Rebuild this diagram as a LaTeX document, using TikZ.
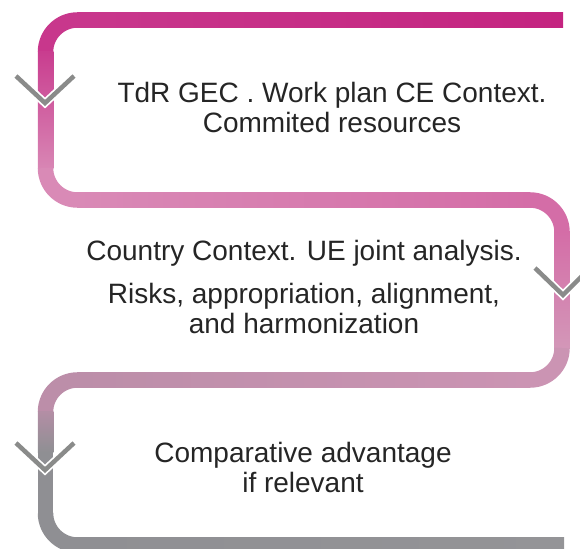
\documentclass[tikz,border=0pt]{standalone}
\usepackage{fontspec}
\setmainfont{Liberation Sans}
\definecolor{magA}{HTML}{C42480}
\definecolor{magB}{HTML}{C8378C}
\definecolor{pinkA}{HTML}{C93D8F}
\definecolor{pinkB}{HTML}{D886B4}
\definecolor{pinkC}{HTML}{D98AB6}
\definecolor{pinkD}{HTML}{D46DA7}
\definecolor{pinkE}{HTML}{DD95BE}
\definecolor{pinkF}{HTML}{D397B8}
\definecolor{mauveA}{HTML}{CB94B3}
\definecolor{mauveB}{HTML}{BC8EA9}
\definecolor{mauveC}{HTML}{B38EA5}
\definecolor{grayA}{HTML}{8F8F93}
\definecolor{grayB}{HTML}{949497}
\definecolor{chevgray}{HTML}{8A8B8A}
\definecolor{textgray}{HTML}{252525}

\begin{document}
\begin{tikzpicture}[x=1pt,y=-1pt,
		steptext/.style={align=center,inner sep=0pt,anchor=north,text=textgray,font=\fontsize{28}{30}\selectfont},
		turnband/.style={line width=15.5pt,rounded corners=32pt},
		chevron/.style={draw=chevgray,line width=4.5pt,line join=miter,preaction={draw=white,line width=8pt}}]
			\useasboundingbox(0,0)rectangle(580,548);
			\shade[left color=magB,right color=magA](77,12.25)rectangle(563,27.75);
			\draw[turnband,magB](77.5,20)--(45.5,20)--(45.5,52);
			\shade[top color=pinkA,bottom color=pinkB](37.75,51.5)rectangle(53.25,168.5);
			\draw[turnband,pinkC](45.5,168)--(45.5,200)--(77.5,200);
			\shade[left color=pinkC,right color=pinkD](77,192.25)rectangle(530.5,207.75);
			\draw[turnband,pinkD](530,200)--(562,200)--(562,232);
			\shade[top color=pinkD,middle color=pinkE,bottom color=pinkF](554.25,231.5)rectangle(569.75,348.5);
			\draw[turnband,mauveA](562,348)--(562,380)--(530,380);
			\shade[left color=mauveB,right color=mauveA](77,372.25)rectangle(530.5,387.75);
			\draw[turnband,mauveB](77.5,380)--(45.5,380)--(45.5,412);
			\shade[top color=mauveC,bottom color=grayA](37.75,411.5)rectangle(53.25,452);
			\fill[grayA](37.75,451.5)rectangle(53.25,513.5);
			\draw[turnband,grayA](45.5,513)--(45.5,545)--(77.5,545);
			\shade[left color=grayA,right color=grayB](77,537.25)rectangle(564,552.75);
			\draw[chevron](16,76)--(45,103)--(74,76);
			\draw[chevron](535,268)--(563,295)--(592,266);
			\draw[chevron](16,443)--(45,470)--(74,443);
			\node[steptext](plan)at(332,82){TdR GEC . Work plan CE Context.\\Commited resources};
			\node[steptext](context)at(304,240.5){Country Context. UE joint analysis.\\[13pt]Risks, appropriation, alignment,\\and harmonization};
			\node[steptext](advantage)at(303,442.5){Comparative advantage\\if relevant};
		\end{tikzpicture}
\end{document}
